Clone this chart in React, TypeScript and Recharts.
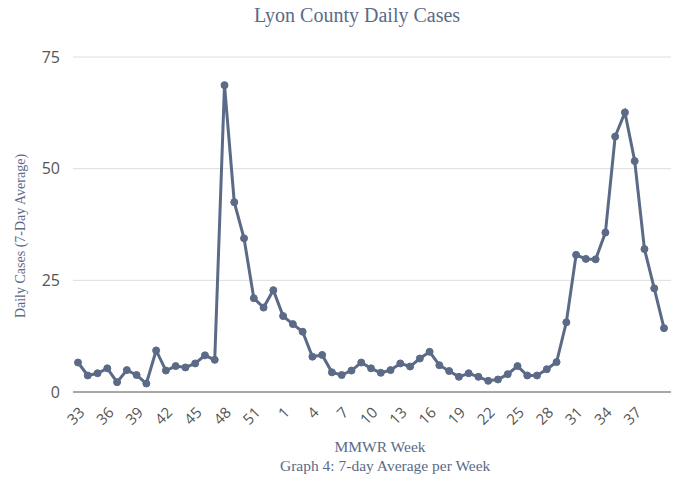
import { LineChart, Line, XAxis, YAxis, CartesianGrid } from 'recharts';

// MMWR weeks: 33-53 (2020) then 1-40 (2021)
const weeks = [
  33, 34, 35, 36, 37, 38, 39, 40, 41, 42, 43, 44, 45, 46, 47, 48, 49, 50, 51, 52, 53,
  1, 2, 3, 4, 5, 6, 7, 8, 9, 10, 11, 12, 13, 14, 15, 16, 17, 18, 19, 20,
  21, 22, 23, 24, 25, 26, 27, 28, 29, 30, 31, 32, 33, 34, 35, 36, 37, 38, 39, 40,
];

const cases = [
  6.6, 3.7, 4.2, 5.3, 2.2, 4.9, 3.8, 1.9, 9.3, 4.8, 5.8, 5.5, 6.4, 8.2, 7.2, 68.7, 42.5, 34.4, 21.0, 18.9, 22.8,
  17.0, 15.2, 13.5, 7.9, 8.3, 4.4, 3.8, 4.8, 6.6, 5.3, 4.3, 4.9, 6.4, 5.7, 7.5, 9.0, 6.0, 4.7, 3.4, 4.2,
  3.4, 2.5, 2.8, 4.0, 5.8, 3.7, 3.7, 5.1, 6.7, 15.6, 30.7, 29.8, 29.7, 35.7, 57.2, 62.6, 51.7, 32.0, 23.2, 14.3,
];

const yTicks = [0, 25, 50, 75];

const data = weeks.map((w, i) => ({ week: w, cases: cases[i] }));

const LINE = '#5b6a86';
const serif = '"Liberation Serif", "Times New Roman", serif';
const sans = '"Open Sans", sans-serif';

export default function App() {
  return (
    <div style={{ position: 'absolute', left: 0, top: 0, width: 675, height: 477 }}>
      <div
        style={{
          position: 'absolute',
          top: 4,
          left: 254,
          width: 200,
          textAlign: 'center',
          fontFamily: serif,
          fontSize: 20,
          color: LINE,
          whiteSpace: 'nowrap',
        }}
      >
        Lyon County Daily Cases
      </div>
      <div
        style={{
          position: 'absolute',
          left: 21 - 100,
          top: 236 - 10,
          width: 200,
          height: 20,
          lineHeight: '20px',
          textAlign: 'center',
          transform: 'rotate(-90deg)',
          fontFamily: serif,
          fontSize: 14,
          color: LINE,
          whiteSpace: 'nowrap',
        }}
      >
        Daily Cases (7-Day Average)
      </div>
      <LineChart
        width={675}
        height={477}
        data={data}
        margin={{ top: 57, right: 4, bottom: 35, left: 0 }}
      >
        <CartesianGrid vertical={false} stroke="#dedede" />
        <XAxis
          dataKey="week"
          interval={0}
          height={50}
          padding={{ left: 5, right: 7 }}
          tickLine={false}
          axisLine={{ stroke: '#a8a8a8', strokeWidth: 2 }}
          tick={{ fontSize: 15, fill: '#555', fontFamily: sans, angle: -45, textAnchor: 'end' }}
          tickFormatter={(v, i) => (i % 3 === 0 && i < 60 ? String(v) : '')}
          tickMargin={8}
        />
        <YAxis
          width={73}
          domain={[0, 75]}
          ticks={yTicks}
          axisLine={false}
          tickLine={false}
          tickSize={0}
          tickMargin={13}
          tick={{ fontSize: 16, fill: '#555', fontFamily: sans }}
        />
        <Line
          type="linear"
          dataKey="cases"
          stroke={LINE}
          strokeWidth={3}
          dot={{ r: 3.5, fill: LINE, stroke: LINE, strokeWidth: 1 }}
          isAnimationActive={false}
        />
      </LineChart>
      <div
        style={{
          position: 'absolute',
          top: 437,
          left: 280,
          width: 200,
          textAlign: 'center',
          fontFamily: serif,
          fontSize: 15.5,
          color: LINE,
          lineHeight: '19px',
          whiteSpace: 'nowrap',
        }}
      >
        <div>MMWR Week</div>
        <div>Graph 4: 7-day Average per Week</div>
      </div>
    </div>
  );
}
